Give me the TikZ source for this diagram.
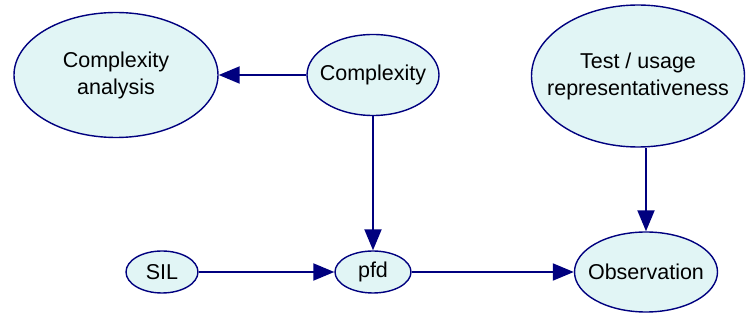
\documentclass[tikz,border=0pt]{standalone}
\usepackage{fontspec}
\setmainfont{Liberation Sans}
\usetikzlibrary{arrows.meta, positioning, shapes.geometric}
\definecolor{cnavy}{HTML}{00007F}
\definecolor{cfill}{HTML}{E1F5F5}
\tikzset{
  every picture/.style={font=\fontsize{21.5}{27}\selectfont, line width=1.4pt},
  var/.style={ellipse, draw=cnavy, fill=cfill, align=center, inner xsep=-60pt, inner ysep=0pt},
  arrow/.style={-{Triangle[length=21pt, width=17pt]}, draw=cnavy, line width=2pt},
}
\begin{document}
\begin{tikzpicture}[x=1pt, y=-1pt]
  \useasboundingbox (0,0) rectangle (748,320);
  \node[var, minimum width=204pt, minimum height=125pt] (ca) at (116,75) {Complexity\\analysis};
  \node[var, minimum width=132pt, minimum height=81pt] (cx) at (373,75) {Complexity};
  \node[var, minimum width=213pt, minimum height=142pt] (tu) at (638,76) {Test / usage\\representativeness};
  \node[var, minimum width=72pt, minimum height=42pt] (sil) at (162,272) {SIL};
  \node[var, minimum width=76pt, minimum height=42pt] (pfd) at (373,272) {pfd};
  \node[var, minimum width=143pt, minimum height=80pt] (obs) at (646,272) {Observation};
  \draw[arrow] (cx) -- (ca);
  \draw[arrow] (cx) -- (pfd);
  \draw[arrow] (sil) -- (pfd);
  \draw[arrow] (pfd) -- (obs);
  \draw[arrow] (tu.south -| obs) -- (obs);
\end{tikzpicture}
\end{document}
